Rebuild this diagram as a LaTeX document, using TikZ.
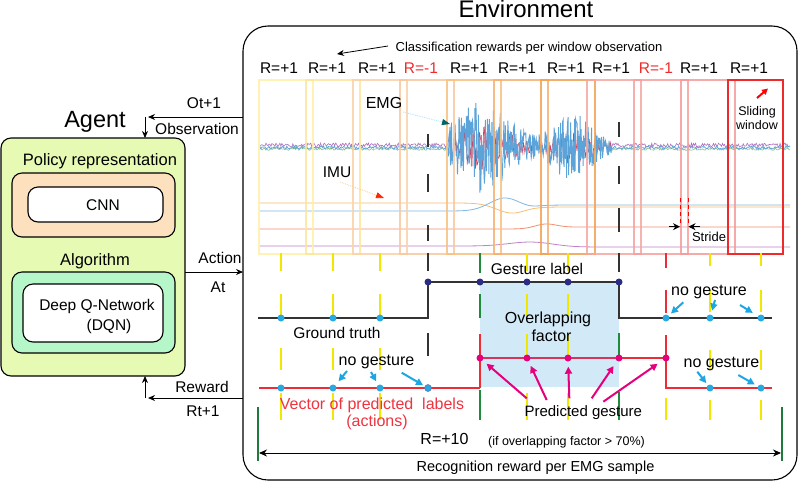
\documentclass[tikz,border=0pt]{standalone}
\usepackage{fontspec}
\setmainfont{Liberation Sans}
\usetikzlibrary{arrows.meta}
\newcommand\myfs[1]{\fontsize{#1}{#1}\selectfont}
\definecolor{agentfill}{HTML}{E6FAB4}
\definecolor{policyfill}{HTML}{FDE0BE}
\definecolor{algofill}{HTML}{B6F7CA}
\definecolor{dotblue}{HTML}{27A9E1}
\definecolor{dotnavy}{HTML}{2B2C83}
\definecolor{mag}{HTML}{E5007D}
\definecolor{predred}{HTML}{EC2D35}
\definecolor{predcrim}{HTML}{D9355A}
\definecolor{overlapfill}{HTML}{D2EAF8}
\definecolor{arrblue}{HTML}{1EA6E3}
\definecolor{tickyel}{HTML}{F0E800}
\definecolor{tickgrn}{HTML}{1E8C3C}
\definecolor{dkgreen}{HTML}{1F7A3E}
\definecolor{gtgray}{HTML}{333333}
\definecolor{rlabel}{HTML}{EE2B2B}
\definecolor{vecred}{HTML}{EE3440}
\definecolor{emgblue}{HTML}{5BA3D9}
\definecolor{emgred}{HTML}{D0405A}
\definecolor{emgpurple}{HTML}{B070C0}
\definecolor{emggreen}{HTML}{88C080}
\definecolor{imuor}{HTML}{F5C070}
\definecolor{imubl}{HTML}{80B8E0}
\definecolor{imurd}{HTML}{F09070}
\definecolor{imupu}{HTML}{C080C8}
\definecolor{wa}{HTML}{FFF0A8}
\definecolor{wb}{HTML}{FDE69A}
\definecolor{wc}{HTML}{FBD2A8}
\definecolor{wd}{HTML}{F9C8A0}
\definecolor{we}{HTML}{F9C080}
\definecolor{wf}{HTML}{F6B070}
\definecolor{wg}{HTML}{F2A050}
\definecolor{wh}{HTML}{F6A8A0}
\definecolor{wi}{HTML}{F8A0A0}
\definecolor{wj}{HTML}{F59A9A}
\definecolor{wk}{HTML}{EE2A2A}
\newcommand\vsegs[3]{\foreach \a/\b in {#3}{\draw[tickline, draw=#2] (#1,\a) -- (#1,\b);}}
\begin{document}
\begin{tikzpicture}[x=1pt,y=-1pt,
  lbl/.style={inner sep=0pt, anchor=base, font=\myfs{15.5}},
  box/.style={draw=black, line width=1.1pt, rounded corners=10pt, inner sep=0pt, outer sep=0pt},
  envbox/.style={draw=black, line width=1.1pt, rounded corners=25pt, inner sep=0pt, outer sep=0pt, fill=white},
  arr/.style={-{Stealth[length=7pt,width=6pt]}, line width=0.8pt},
  win/.style={line width=2.2pt, opacity=0.85},
  tickline/.style={line width=1.3pt},
  gtline/.style={draw=gtgray, line width=1.6pt},
  predline/.style={draw=predred, line width=2pt},
  bdot/.style={circle, fill=dotblue, minimum size=7pt, inner sep=0pt},
  ndot/.style={circle, fill=dotnavy, minimum size=7pt, inner sep=0pt},
  mdot/.style={circle, fill=mag, minimum size=7pt, inner sep=0pt},
  barr/.style={draw=arrblue, line width=2pt, -{Triangle[length=7pt,width=7pt]}},
  marr/.style={draw=mag, line width=2pt, -{Triangle[length=7pt,width=7pt]}}
]
\useasboundingbox (0,0) rectangle (799,483);

% ---------- environment ----------
\node[envbox, anchor=north west, minimum width=554pt, minimum height=454pt] (env) at (243,26) {};
\node[lbl, font=\myfs{24}] (envtitle) at (526,17.5) {Environment};

% ---------- agent ----------
\node[lbl, font=\myfs{23.5}] (agenttitle) at (95,127) {Agent};
\node[box, fill=agentfill, anchor=north west, minimum width=184pt, minimum height=238pt] (agent) at (1,138) {};
\node[box, fill=policyfill, anchor=north west, minimum width=163pt, minimum height=64pt] (policy) at (12,173) {};
\node[box, fill=white, anchor=north west, minimum width=135pt, minimum height=35pt] (cnn) at (28,187) {};
\node[box, fill=algofill, anchor=north west, minimum width=163pt, minimum height=81pt] (algo) at (12,272) {};
\node[box, fill=white, anchor=north west, minimum width=140pt, minimum height=58pt] (dqn) at (23,284) {};
\node[lbl, font=\myfs{16.5}] (policytxt) at (100,165) {Policy representation};
\node[lbl] (cnntxt) at (103,210.5) {CNN};
\node[lbl, font=\myfs{16.5}] (algotxt) at (95,265) {Algorithm};
\node[lbl] (dqntxt) at (97,310.5) {Deep Q-Network};
\node[lbl] (dqntxtb) at (109,330.5) {(DQN)};

% ---------- agent / environment connectors ----------
\coordinate (obsR) at (243,117);
\coordinate (obsL) at (148,117);
\coordinate (obsV) at (145,117);
\draw[arr] (obsR) -- (obsL);
\draw[arr] (obsV) -- (obsV |- agent.north);
\node[lbl] (ottxt) at (204,108.5) {Ot+1};
\node[lbl] (obstxt) at (197,134) {Observation};

\coordinate (actY) at (0,272);
\draw[arr] (agent.east |- actY) -- (env.west |- actY);
\node[lbl] (acttxt) at (220,263.5) {Action};
\node[lbl] (attxt) at (218,292) {At};

\coordinate (rewR) at (243,398);
\coordinate (rewL) at (148,398);
\coordinate (rewV) at (145,398);
\draw[arr] (rewR) -- (rewL);
\draw[arr] (rewV) -- (rewV |- agent.south);
\node[lbl] (rewtxt) at (202,392) {Reward};
\node[lbl] (rttxt) at (203,416) {Rt+1};

% ---------- classification rewards ----------
\node[lbl, font=\myfs{13}] (clsrew) at (529,51) {Classification rewards per window observation};
\coordinate (clsA) at (388,46);
\coordinate (clsB) at (337,54);
\draw[arr] (clsA) -- (clsB);
\foreach \x/\t/\c [count=\i] in {279/+1/black, 327/+1/black, 377/+1/black, 421/-1/rlabel, 469/+1/black, 517/+1/black, 566/+1/black, 611/+1/black, 656/-1/rlabel, 699/+1/black, 749/+1/black}
  \node[lbl, text=\c] (rl\i) at (\x,73) {R=\t};

% ---------- signals ----------
\pgfmathsetseed{4242}
\draw[emgpurple, line width=0.6pt] plot[domain=260:448, samples=190, variable=\x] (\x,{145+2*rand});
\draw[emggreen, line width=0.6pt] plot[domain=260:448, samples=190, variable=\x] (\x,{149+1.3*rand});
\draw[emgblue, line width=0.7pt] plot[domain=260:448, samples=190, variable=\x] (\x,{147.5+1.6*rand});
\draw[emgpurple, line width=0.6pt] plot[domain=612:790, samples=180, variable=\x] (\x,{145+2*rand});
\draw[emggreen, line width=0.6pt] plot[domain=612:790, samples=180, variable=\x] (\x,{149+1.3*rand});
\draw[emgblue, line width=0.7pt] plot[domain=612:790, samples=180, variable=\x] (\x,{147.5+1.6*rand});
\draw[emgred, line width=0.6pt] plot[domain=448:612, samples=240, variable=\x]
  (\x,{147+0.55*(6+36*exp(-min(9,((\x-482)/35)*((\x-482)/35)))+24*exp(-min(9,((\x-572)/24)*((\x-572)/24))))*rand});
\draw[emgblue, line width=0.9pt] plot[domain=448:612, samples=330, variable=\x]
  (\x,{147+(6+40*exp(-min(9,((\x-482)/35)*((\x-482)/35)))+28*exp(-min(9,((\x-572)/24)*((\x-572)/24))))*rand});

\draw[imuor, line width=0.8pt] plot[domain=260:790, samples=180, variable=\x]
  (\x,{203+10*exp(-min(9,((\x-512)/22)*((\x-512)/22)))+4/(1+exp(-max(-9,min(9,(\x-535)/6))))});
\draw[imubl, line width=0.8pt] plot[domain=260:790, samples=180, variable=\x]
  (\x,{211-13*exp(-min(9,((\x-505)/22)*((\x-505)/22)))-6/(1+exp(-max(-9,min(9,(\x-535)/6))))});
\draw[imurd, line width=0.8pt] plot[domain=260:790, samples=150, variable=\x]
  (\x,{229-4*exp(-min(9,((\x-545)/15)*((\x-545)/15)))-2/(1+exp(-max(-9,min(9,(\x-545)/8))))});
\draw[imupu, line width=0.8pt] plot[domain=260:790, samples=150, variable=\x]
  (\x,{246-4*exp(-min(9,((\x-530)/30)*((\x-530)/30)))+1/(1+exp(-max(-9,min(9,(\x-560)/8))))});

% ---------- windows ----------
\foreach \l/\c in {259/wa, 306/wb, 353/wc, 400/wd, 447/we, 494/wf, 541/wg, 587/wh, 634/wi, 681/wj}
  \draw[win, draw=\c] (\l,80) rectangle +(54,174);
\draw[line width=2.2pt, draw=wk] (728,80) rectangle (783,254);

% labels inside signal area
\node[lbl, font=\myfs{16}] (emgtxt) at (384,108.5) {EMG};
\draw[cyan!35, densely dotted, line width=0.8pt, -{Triangle[length=8pt,width=6pt,color=teal!80!black]}] (403,112) -- (450,124);
\node[lbl] (imutxt) at (337,177.5) {IMU};
\draw[orange!40, densely dotted, line width=0.8pt, -{Triangle[length=8pt,width=6pt,color=red!70!orange]}] (340,182) -- (384,198);
\node[lbl, font=\myfs{12.5}] (slide1) at (757,115) {Sliding};
\node[lbl, font=\myfs{12.5}] (slide2) at (757,129.3) {window};
\draw[red, line width=2pt, -{Triangle[length=6pt,width=6pt]}] (757,98) -- (768,88.5);
\draw[red, line width=1pt, dash pattern=on 4pt off 3pt] (680,198) -- (680,226);
\draw[red, line width=1pt, dash pattern=on 4pt off 3pt] (688.5,198) -- (688.5,226);
\coordinate (strL) at (669,226.7);
\coordinate (strLe) at (680,226.7);
\coordinate (strR) at (700,226.7);
\coordinate (strRe) at (688.5,226.7);
\draw[-{Stealth[length=7pt,width=7pt]}, line width=0.9pt] (strL) -- (strLe);
\draw[-{Stealth[length=7pt,width=7pt]}, line width=0.9pt] (strR) -- (strRe);
\node[lbl, font=\myfs{13}] (stridetxt) at (709,241.7) {Stride};

% gesture boundaries in signal area
\vsegs{428}{gtgray}{134/147, 174/192, 225/241}
\vsegs{619}{gtgray}{122/137, 166/184, 208/232}

% ---------- lower part ----------
\fill[overlapfill] (480,282) rectangle (619,387);

\vsegs{281}{tickyel}{253/271, 294/316, 348/370, 393/420}
\vsegs{333}{tickyel}{253/271, 294/316, 348/370, 393/420}
\vsegs{380}{tickyel}{253/271, 294/316, 348/370, 393/420}
\vsegs{428}{gtgray}{253/271, 333/356}
\vsegs{480}{tickgrn}{253/273, 294/318, 390/420}
\vsegs{527}{tickyel}{253/271, 294/316, 334/357, 393/420}
\vsegs{568}{tickyel}{253/271, 294/316, 334/357, 393/420}
\vsegs{619}{gtgray}{253/272}
\vsegs{619}{tickgrn}{296/318, 333/357, 392/420}
\vsegs{666}{predred}{253/268, 290/313}
\vsegs{666}{tickyel}{398/420}
\vsegs{710}{tickyel}{253/266, 290/312, 350/370, 400/420}
\vsegs{761}{tickyel}{253/266, 290/312, 350/370, 400/420}

% ground truth
\draw[gtline] (258,318) -- (428,318) -- (428,282) -- (619,282) -- (619,318) -- (772,318);
% prediction
\draw[predline] (259,388) -- (480,388);
\draw[predline] (480,334) -- (480,388);
\draw[draw=predcrim, line width=2pt] (480,358) -- (619,358);
\draw[predline] (619,358) -- (666,358);
\draw[predline] (666,335) -- (666,388) -- (772,388);

% dots
\foreach \x [count=\i] in {281,333,380} \node[bdot] (gl\i) at (\x,318) {};
\foreach \x [count=\i] in {428,480,527,568,619} \node[ndot] (gh\i) at (\x,282) {};
\foreach \x [count=\i] in {666,710,761} \node[bdot] (gr\i) at (\x,318) {};
\foreach \x [count=\i] in {281,333,380} \node[bdot] (pl\i) at (\x,388) {};
\node[bdot, draw=dotnavy!70, line width=0.5pt] (pl4) at (428,388) {};
\foreach \x [count=\i] in {480,527,568,619,666} \node[mdot] (ph\i) at (\x,358) {};
\foreach \x [count=\i] in {710,761} \node[bdot] (pr\i) at (\x,388) {};

% texts lower part
\node[lbl] (gesttxt) at (537,274) {Gesture label};
\node[lbl] (gttxt) at (337,338) {Ground truth};
\node[lbl, font=\myfs{16}] (ovtxt1) at (548,323.5) {Overlapping};
\node[lbl, font=\myfs{16}] (ovtxt2) at (551.5,341) {factor};
\node[lbl, font=\myfs{16}] (ng1) at (376.5,365) {no gesture};
\node[lbl, font=\myfs{16}] (ng2) at (709,295.7) {no gesture};
\node[lbl, font=\myfs{16}] (ng3) at (721.5,367.3) {no gesture};
\node[lbl, font=\myfs{16}, text=vecred] (vectxt1) at (372,409.3) {Vector of predicted\ \ labels};
\node[lbl, font=\myfs{16}, text=vecred] (vectxt2) at (377,426.7) {(actions)};
\node[lbl, font=\myfs{15}] (predtxt) at (583.3,416.7) {Predicted gesture};

% blue arrows
\coordinate (ta1) at (347,371);
\coordinate (ta2) at (371,372);
\coordinate (ta3) at (401.7,372.7);
\coordinate (tb1) at (683.3,302.3);
\coordinate (tb2) at (715,300);
\coordinate (tb3) at (740,305);
\coordinate (tc1) at (697.3,371.7);
\coordinate (tc2) at (738.3,375);
\draw[barr, shorten >=5pt] (ta1) -- (pl2);
\draw[barr, shorten >=4pt] (ta2) -- (pl3);
\draw[barr, shorten >=2pt] (ta3) -- (pl4);
\draw[barr, shorten >=3pt] (tb1) -- (gr1);
\draw[barr, shorten >=4pt] (tb2) -- (gr2);
\draw[barr, shorten >=6pt] (tb3) -- (gr3);
\draw[barr, shorten >=2.5pt] (tc1) -- (pr1);
\draw[barr, shorten >=3.5pt] (tc2) -- (pr2);

% magenta arrows
\coordinate (tm1) at (526.7,398.3);
\coordinate (tm2) at (546.7,400);
\coordinate (tm3) at (569.3,398.3);
\coordinate (tm4) at (591.7,398.3);
\coordinate (tm5) at (603.3,401.7);
\draw[marr, shorten >=5pt] (tm1) -- (ph1);
\draw[marr, shorten >=5pt] (tm2) -- (ph2);
\draw[marr, shorten >=5pt] (tm3) -- (ph3);
\draw[marr, shorten >=6pt] (tm4) -- (ph4);
\draw[marr, shorten >=6.5pt] (tm5) -- (ph5);

% recognition reward
\draw[dkgreen, line width=1.5pt] (258,407) -- (258,461);
\draw[dkgreen, line width=1.5pt] (782,407) -- (782,461);
\coordinate (recL) at (259,453);
\coordinate (recR) at (781,453);
\draw[{Stealth[length=8pt,width=7pt]}-{Stealth[length=8pt,width=7pt]}, line width=0.9pt] (recL) -- (recR);
\node[lbl, font=\myfs{16}] (r10) at (444.5,444) {R=+10};
\node[lbl, font=\myfs{12.5}] (iftxt) at (566.5,445) {(if overlapping factor > 70\%)};
\node[lbl, font=\myfs{14.5}] (rectxt) at (535.5,471.7) {Recognition reward per EMG sample};
\end{tikzpicture}
\end{document}
